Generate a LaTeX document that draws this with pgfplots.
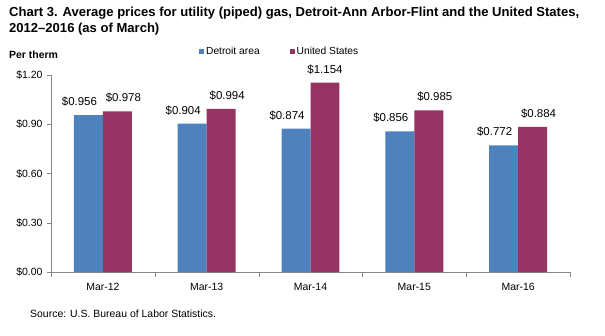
\documentclass[border=0pt]{standalone}
\usepackage{pgfplots}
\pgfplotsset{compat=1.18}
\usepackage{fontspec}
\setmainfont{Liberation Sans}
\definecolor{detroit}{HTML}{4F81BD}
\definecolor{usa}{HTML}{953462}
\definecolor{axgray}{HTML}{868686}
\begin{document}
\begin{tikzpicture}[x=1bp,y=1bp]
\path[use as bounding box] (0,0) rectangle (605,335);
\node[anchor=north west,align=left,inner sep=0pt,font=\fontsize{13.1}{15.8}\selectfont\bfseries] at (9,328)
 {Chart 3. Average prices for utility (piped) gas, Detroit-Ann Arbor-Flint and the United States,\\2012--2016 (as of March)};
\node[anchor=west,inner sep=0pt,font=\fontsize{10.5}{12}\selectfont\bfseries] at (9,280.5) {Per therm};
\node[anchor=west,inner sep=0pt,font=\fontsize{10.5}{12}\selectfont] at (30,21) {Source: U.S. Bureau of Labor Statistics.};
\begin{axis}[
  at={(51bp,63bp)}, anchor=south west,
  scale only axis, width=519bp, height=197bp,
  ybar=0pt, bar width=0.279,
  xmin=-0.5, xmax=4.5, ymin=0, ymax=1.2,
  xtick={0,1,2,3,4},
  xticklabels={Mar-12,Mar-13,Mar-14,Mar-15,Mar-16},
  minor xtick={-0.5,0.5,1.5,2.5,3.5,4.5},
  major x tick style={draw=none},
  minor x tick style={axgray},
  ytick={0,0.3,0.6,0.9,1.2},
  yticklabel={\$\pgfmathprintnumber[fixed,fixed zerofill,precision=2]{\tick}},
  /pgf/number format/assume math mode=true,
  tick align=outside, major tick length=4bp, minor tick length=5bp,
  y tick style={axgray},
  axis x line*=bottom, axis y line*=left,
  axis line style={axgray, line width=0.8pt},
  tick label style={font=\fontsize{10.5}{12}\selectfont},
  xticklabel style={yshift=-4bp},
  yticklabel style={xshift=-1bp},
  clip=false,
  nodes near coords={\$\pgfmathprintnumber[fixed,fixed zerofill,precision=3]{\pgfplotspointmeta}},
  every node near coord/.append style={font=\fontsize{11.5}{13}\selectfont, anchor=south, inner sep=0pt, yshift=8.5bp},
  legend columns=2,
  legend style={draw=none, fill=none, at={(0.285,1.117)}, anchor=west,
    font=\fontsize{10.3}{12}\selectfont, inner sep=0pt,
    /tikz/every even column/.append style={column sep=28bp}},
  legend image code/.code={\fill[#1] (0bp,-2.5bp) rectangle (5bp,2.5bp);},
]
\addplot[fill=detroit, draw=none, every node near coord/.append style={xshift=-9bp}]
  coordinates {(0,0.956) (1,0.904) (2,0.874) (3,0.856) (4,0.772)};
\addplot[fill=usa, draw=none, every node near coord/.append style={xshift=6bp},
  coordinate style/.condition={x==2}{xshift=-6bp}]
  coordinates {(0,0.978) (1,0.994) (2,1.154) (3,0.985) (4,0.884)};
\legend{Detroit area, United States}
\end{axis}
\end{tikzpicture}
\end{document}
